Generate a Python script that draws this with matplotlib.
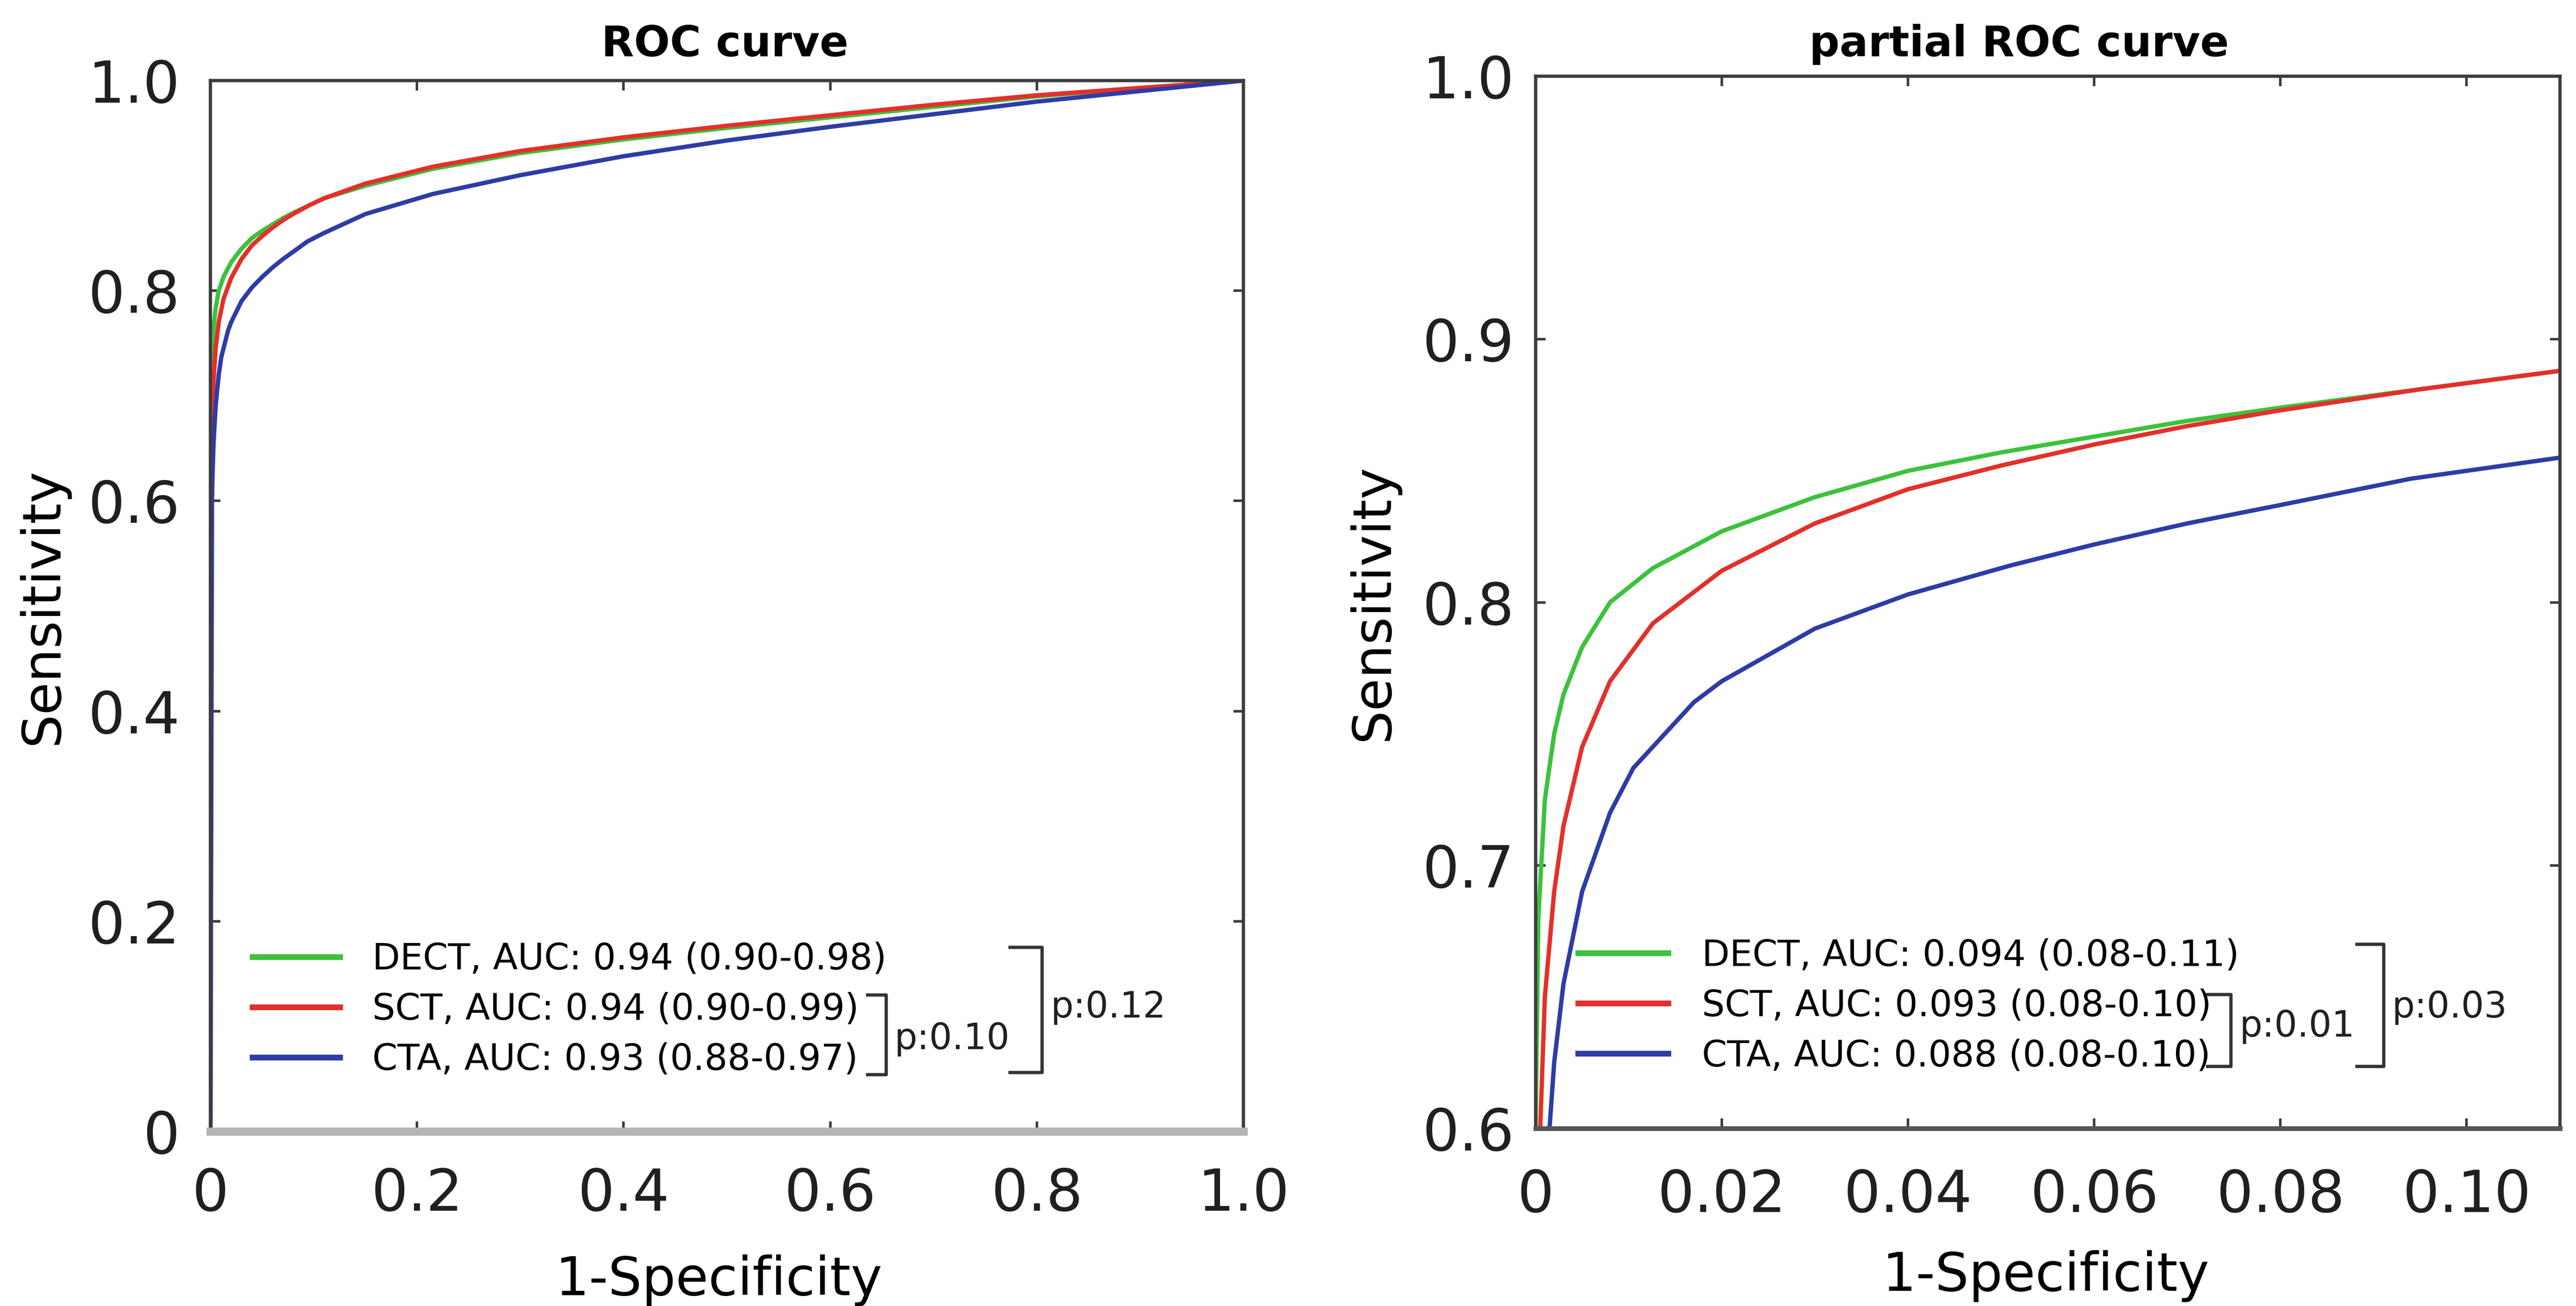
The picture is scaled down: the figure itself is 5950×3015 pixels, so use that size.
import matplotlib
matplotlib.use("Agg")
import matplotlib.pyplot as plt
from matplotlib.lines import Line2D

# partial ROC, 1-specificity up to 0.11
proc_fpr_dect = [0, 0.0003, 0.001, 0.002, 0.003, 0.005, 0.008, 0.0126, 0.02, 0.03, 0.04, 0.05, 0.06, 0.07, 0.08, 0.095, 0.11]
proc_tpr_dect = [0.6, 0.68, 0.725, 0.75, 0.765, 0.783, 0.8, 0.813, 0.827, 0.84, 0.85, 0.857, 0.863, 0.869, 0.874, 0.881, 0.888]
proc_fpr_sct = [0.0005, 0.001, 0.002, 0.003, 0.005, 0.008, 0.0126, 0.02, 0.03, 0.04, 0.05, 0.06, 0.07, 0.08, 0.095, 0.11]
proc_tpr_sct = [0.6, 0.65, 0.69, 0.715, 0.745, 0.77, 0.792, 0.812, 0.83, 0.843, 0.852, 0.86, 0.867, 0.873, 0.881, 0.888]
proc_fpr_cta = [0.0015, 0.002, 0.003, 0.005, 0.008, 0.0105, 0.017, 0.02, 0.03, 0.04, 0.051, 0.06, 0.07, 0.08, 0.094, 0.11]
proc_tpr_cta = [0.6, 0.625, 0.655, 0.69, 0.72, 0.737, 0.762, 0.77, 0.79, 0.803, 0.814, 0.822, 0.83, 0.837, 0.847, 0.855]

# full ROC curves (1-specificity, sensitivity)
roc_fpr_dect = [0, 0, 0.0003, 0.001, 0.002, 0.003, 0.005, 0.008, 0.0126, 0.02, 0.03, 0.04, 0.05, 0.06, 0.07, 0.08, 0.095, 0.11, 0.15, 0.215, 0.3, 0.4, 0.5, 0.6, 0.7, 0.8, 0.9, 1.0]
roc_tpr_dect = [0, 0.6, 0.68, 0.725, 0.75, 0.765, 0.783, 0.8, 0.813, 0.827, 0.84, 0.85, 0.857, 0.863, 0.869, 0.874, 0.881, 0.888, 0.9, 0.916, 0.931, 0.944, 0.955, 0.965, 0.975, 0.985, 0.993, 1.0]
roc_fpr_sct = [0, 0.0005, 0.001, 0.002, 0.003, 0.005, 0.008, 0.0126, 0.02, 0.03, 0.04, 0.05, 0.06, 0.07, 0.08, 0.095, 0.11, 0.15, 0.215, 0.3, 0.4, 0.5, 0.6, 0.7, 0.8, 0.9, 1.0]
roc_tpr_sct = [0, 0.6, 0.65, 0.69, 0.715, 0.745, 0.77, 0.792, 0.812, 0.83, 0.843, 0.852, 0.86, 0.867, 0.873, 0.881, 0.888, 0.902, 0.918, 0.933, 0.946, 0.957, 0.967, 0.977, 0.986, 0.993, 1.0]
roc_fpr_cta = [0, 0.0015, 0.002, 0.003, 0.005, 0.008, 0.0105, 0.017, 0.02, 0.03, 0.04, 0.051, 0.06, 0.07, 0.08, 0.094, 0.11, 0.15, 0.215, 0.3, 0.4, 0.5, 0.6, 0.7, 0.8, 0.9, 1.0]
roc_tpr_cta = [0, 0.6, 0.625, 0.655, 0.69, 0.72, 0.737, 0.762, 0.77, 0.79, 0.803, 0.814, 0.822, 0.83, 0.837, 0.847, 0.855, 0.873, 0.892, 0.91, 0.928, 0.943, 0.956, 0.968, 0.98, 0.99, 1.0]

roc_labels = ["DECT, AUC: 0.94 (0.90-0.98)",
              "SCT, AUC: 0.94 (0.90-0.99)",
              "CTA, AUC: 0.93 (0.88-0.97)"]
proc_labels = ["DECT, AUC: 0.094 (0.08-0.11)",
               "SCT, AUC: 0.093 (0.08-0.10)",
               "CTA, AUC: 0.088 (0.08-0.10)"]
roc_pvals = ["p:0.10", "p:0.12"]
proc_pvals = ["p:0.01", "p:0.03"]

roc_ticks = [0, 0.2, 0.4, 0.6, 0.8, 1.0]
roc_ticklabels = ["0", "0.2", "0.4", "0.6", "0.8", "1.0"]
proc_xticks = [0, 0.02, 0.04, 0.06, 0.08, 0.10]
proc_xticklabels = ["0", "0.02", "0.04", "0.06", "0.08", "0.10"]
proc_yticks = [0.6, 0.7, 0.8, 0.9, 1.0]
proc_yticklabels = ["0.6", "0.7", "0.8", "0.9", "1.0"]

colors = ["#3cc23c", "#e3302b", "#2e3ca6"]
spine_col = "#3c3c3c"

fig = plt.figure(figsize=(5950 / 300, 3015 / 300), dpi=300)
ax1 = fig.add_axes([0.0817, 0.1337, 0.401, 0.8046])
ax2 = fig.add_axes([0.5961, 0.136, 0.3976, 0.8056])


def style(ax, xpad, ypad):
    for s in ax.spines.values():
        s.set_color(spine_col)
        s.set_linewidth(1.8)
    ax.tick_params(direction="in", top=True, right=True, length=5.5, width=1.4,
                   color=spine_col, labelsize=32, labelcolor="#202020")
    ax.tick_params(axis="x", pad=xpad)
    ax.tick_params(axis="y", pad=ypad)


def bracket(ax, x_hook, x_bar, y_top, y_bot, text, ty):
    ax.add_line(Line2D([x_hook, x_bar, x_bar, x_hook], [y_top, y_top, y_bot, y_bot],
                       transform=ax.transAxes, color="#333333", lw=1.8, clip_on=False))
    ax.text(x_bar + 0.008, ty, text, transform=ax.transAxes, fontsize=20,
            va="center", ha="left", color="#202020")


# left: full ROC
ax1.plot(roc_fpr_dect, roc_tpr_dect, color=colors[0], lw=2.4, label=roc_labels[0])
ax1.plot(roc_fpr_sct, roc_tpr_sct, color=colors[1], lw=2.4, label=roc_labels[1])
ax1.plot(roc_fpr_cta, roc_tpr_cta, color=colors[2], lw=2.4, label=roc_labels[2])
ax1.set_xlim(0, 1)
ax1.set_ylim(0, 1)
ax1.set_xticks(roc_ticks, roc_ticklabels)
ax1.set_yticks(roc_ticks, roc_ticklabels)
style(ax1, 19.5, 17)
ax1.spines["bottom"].set_color("#b5b5b5")
ax1.spines["bottom"].set_linewidth(4.5)
ax1.set_xlabel("1-Specificity", fontsize=29.5)
ax1.set_ylabel("Sensitivity", fontsize=29.5)
ax1.xaxis.set_label_coords(0.492, -0.117)
ax1.yaxis.set_label_coords(-0.137, 0.5)
ax1.text(0.498, 1.023, "ROC curve", transform=ax1.transAxes, ha="center",
         va="baseline", fontsize=23.5, fontweight="bold")
leg1 = ax1.legend(loc="center left", bbox_to_anchor=(0.0407, 0.116), frameon=False,
                  fontsize=20, handlelength=2.42, handletextpad=0.9, labelspacing=0.42,
                  borderpad=0, borderaxespad=0)
for h in leg1.get_lines():
    h.set_linewidth(3.2)
bracket(ax1, 0.636, 0.654, 0.130, 0.054, roc_pvals[0], 0.088)
bracket(ax1, 0.774, 0.805, 0.175, 0.056, roc_pvals[1], 0.118)

# right: partial ROC
ax2.plot(proc_fpr_dect, proc_tpr_dect, color=colors[0], lw=2.4, label=proc_labels[0])
ax2.plot(proc_fpr_sct, proc_tpr_sct, color=colors[1], lw=2.4, label=proc_labels[1])
ax2.plot(proc_fpr_cta, proc_tpr_cta, color=colors[2], lw=2.4, label=proc_labels[2])
ax2.set_xlim(0, 0.11)
ax2.set_ylim(0.6, 1.0)
ax2.set_xticks(proc_xticks, proc_xticklabels)
ax2.set_yticks(proc_yticks, proc_yticklabels)
style(ax2, 21.8, 11.8)
ax2.spines["bottom"].set_color("#555555")
ax2.spines["bottom"].set_linewidth(2.6)
ax2.set_xlabel("1-Specificity", fontsize=29.5)
ax2.set_ylabel("Sensitivity", fontsize=29.5)
ax2.xaxis.set_label_coords(0.498, -0.1157)
ax2.yaxis.set_label_coords(-0.133, 0.5)
ax2.text(0.472, 1.019, "partial ROC curve", transform=ax2.transAxes, ha="center",
         va="baseline", fontsize=23.5, fontweight="bold")
leg2 = ax2.legend(loc="center left", bbox_to_anchor=(0.0414, 0.1165), frameon=False,
                  fontsize=20, handlelength=2.5, handletextpad=0.93, labelspacing=0.42,
                  borderpad=0, borderaxespad=0)
for h in leg2.get_lines():
    h.set_linewidth(3.2)
bracket(ax2, 0.656, 0.679, 0.127, 0.059, proc_pvals[0], 0.097)
bracket(ax2, 0.802, 0.828, 0.175, 0.059, proc_pvals[1], 0.115)

fig.savefig("out.png", dpi=300)
